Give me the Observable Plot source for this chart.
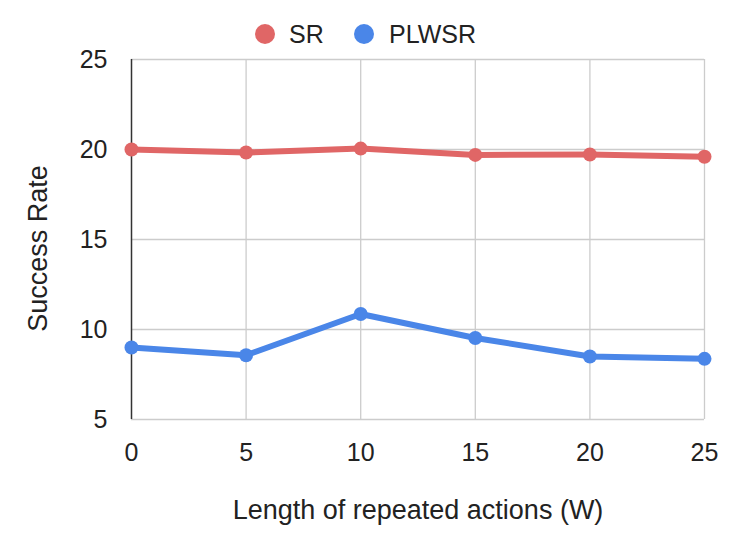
<!DOCTYPE html>
<html>
<head>
<meta charset="utf-8">
<script src="https://cdn.jsdelivr.net/npm/d3@7"></script>
<script src="https://cdn.jsdelivr.net/npm/@observablehq/plot@0.6"></script>
<style>
  body { margin: 0; background: #fff; font-family: "Liberation Sans", Arial, sans-serif; }
  #legend { height: 45px; position: relative; width: 747px; }
  .item { position: absolute; top: 24px; height: 20px; display: flex; align-items: center; font-size: 25px; color: #222; }
  .sw { width: 20px; height: 20px; border-radius: 50%; }
</style>
</head>
<body>
<div id="legend">
  <div class="item" style="left:255px"><span class="sw" style="background:#e06666;margin-right:14px"></span>SR</div>
  <div class="item" style="left:354px"><span class="sw" style="background:#4a86e8;margin-right:15px"></span>PLWSR</div>
</div>
<div id="chart"></div>
<script>
const windows = [0, 5, 10, 15, 20, 25];
const srValues = [20.0, 19.83, 20.05, 19.7, 19.72, 19.6];
const plwsrValues = [9.0, 8.57, 10.86, 9.53, 8.5, 8.37];
const yTicks = [5, 10, 15, 20, 25];
const seriesNames = ["SR", "PLWSR"];
const seriesColors = ["#e06666", "#4a86e8"];

const data = [];
windows.forEach((w, i) => {
  data.push({w, v: srValues[i], s: "SR"});
  data.push({w, v: plwsrValues[i], s: "PLWSR"});
});

const chart = Plot.plot({
  width: 747,
  height: 510,
  marginLeft: 131,
  marginRight: 43,
  marginTop: 14,
  marginBottom: 136,
  style: {fontFamily: "'Liberation Sans', Arial, sans-serif", fontSize: "25px", color: "#222"},
  x: {domain: [0, 25], ticks: windows},
  y: {domain: [5, 25], ticks: yTicks},
  color: {domain: seriesNames, range: seriesColors},
  marks: [
    Plot.ruleY(yTicks, {stroke: "#ccc", strokeWidth: 1.3}),
    Plot.ruleX(windows.slice(1), {stroke: "#ccc", strokeWidth: 1.3}),
    Plot.ruleX([0], {stroke: "#333", strokeWidth: 1.5}),
    Plot.axisX({ticks: windows, tickSize: 0, tickPadding: 24, fontSize: 25, label: null}),
    Plot.axisY({ticks: yTicks, tickSize: 0, tickPadding: 24, fontSize: 25, label: null}),
    Plot.text(["Length of repeated actions (W)"], {frameAnchor: "bottom", lineAnchor: "middle", dy: 91, fontSize: 27, fill: "#222"}),
    Plot.text(["Success Rate"], {frameAnchor: "left", textAnchor: "middle", lineAnchor: "middle", y: [14.5], dx: -93, rotate: -90, fontSize: 27, fill: "#222"}),
    Plot.line(data, {x: "w", y: "v", z: "s", stroke: "s", strokeWidth: 6}),
    Plot.dot(data, {x: "w", y: "v", fill: "s", r: 7})
  ]
});
document.getElementById("chart").appendChild(chart);
</script>
</body>
</html>
